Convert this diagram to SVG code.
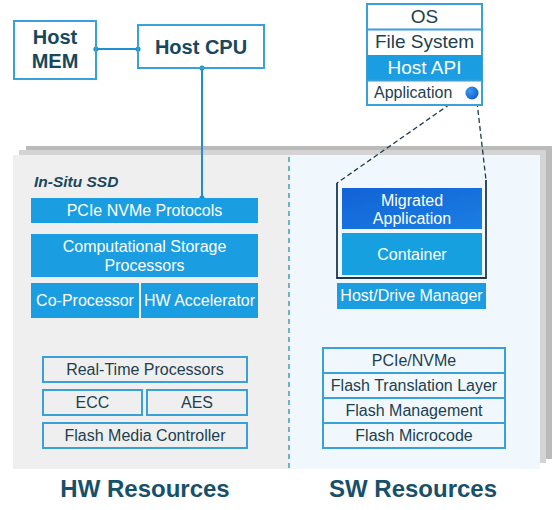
<svg xmlns="http://www.w3.org/2000/svg" width="556" height="510" viewBox="0 0 556 510">
<defs>
<style>
text{font-family:"Liberation Sans",Arial,sans-serif;}
.hd{font-weight:bold;fill:#18485c;font-size:20px;text-anchor:middle;}
.res{font-weight:bold;fill:#17506a;font-size:24px;text-anchor:middle;}
.wt{fill:#ffffff;font-size:16px;text-anchor:middle;}
.dk{fill:#1d3f4f;font-size:16px;text-anchor:middle;}
.ob{fill:none;stroke:#3aa0d8;stroke-width:2;}
.blue{fill:#1b9de2;}
.conn{stroke:#1e8fd0;stroke-width:2;fill:none;}
.dot{fill:#1e8fd0;}
.dash{stroke:#1d3a4a;stroke-width:1.3;stroke-dasharray:5,3;fill:none;}
</style>
<linearGradient id="mig" x1="0" y1="0" x2="1" y2="1">
<stop offset="0" stop-color="#1262d6"/>
<stop offset="1" stop-color="#1a7fe2"/>
</linearGradient>
<radialGradient id="ball" cx="0.35" cy="0.35" r="0.7">
<stop offset="0" stop-color="#3a9af0"/>
<stop offset="1" stop-color="#1060d0"/>
</radialGradient>
</defs>

<g id="background">
<rect x="26" y="146" width="526" height="313" fill="#bababa"/>
<rect x="19" y="150" width="527" height="313" fill="#d4d4d4"/>
<rect x="13" y="155" width="277" height="314" fill="#efefef"/>
<rect x="290" y="155" width="250" height="314" fill="#f0f8fd"/>
<line x1="289" y1="157" x2="289" y2="469" stroke="#2a8fb0" stroke-width="1.3" stroke-dasharray="5,4"/>
</g>

<g id="connectors">
<line class="conn" x1="96" y1="49" x2="138" y2="49"/>
<circle class="dot" cx="96" cy="49" r="2.6"/>
<circle class="dot" cx="138" cy="49" r="2.6"/>
<line class="conn" x1="202" y1="68" x2="202" y2="198"/>
<circle class="dot" cx="202" cy="68" r="2.6"/>
<circle class="dot" cx="202" cy="198" r="2.6"/>
<line class="dash" x1="463" y1="95" x2="337" y2="183"/>
<line class="dash" x1="477" y1="102" x2="486" y2="180"/>
</g>

<g id="host-mem">
<rect class="ob" x="14" y="21" width="82" height="58" fill="#fff"/>
<text class="hd" x="55" y="44">Host</text>
<text class="hd" x="55" y="68">MEM</text>
</g>

<g id="host-cpu">
<rect class="ob" x="138" y="25" width="126" height="43" fill="#fff"/>
<text class="hd" x="201" y="54">Host CPU</text>
</g>

<g id="host-stack">
<rect x="367" y="4" width="115" height="101" fill="#fff" stroke="#3aa0d8" stroke-width="2"/>
<rect x="367" y="55" width="115" height="25" class="blue"/>
<line x1="367" y1="29.5" x2="482" y2="29.5" stroke="#3aa0d8" stroke-width="2"/>
<line x1="367" y1="80.5" x2="482" y2="80.5" stroke="#3aa0d8" stroke-width="2"/>
<text x="424.5" y="23" style="fill:#1d3f4f;font-size:19px;text-anchor:middle">OS</text>
<text x="424.5" y="48" style="fill:#1d3f4f;font-size:19px;text-anchor:middle">File System</text>
<text x="424.5" y="74" style="fill:#fff;font-size:19px;text-anchor:middle">Host API</text>
<text x="374" y="98" style="fill:#1d3f4f;font-size:16px">Application</text>
<circle cx="472" cy="93" r="6.5" fill="url(#ball)"/>
</g>

<g id="in-situ-label">
<text x="34" y="187" style="font-weight:bold;font-style:italic;fill:#18485c;font-size:15.5px">In-Situ SSD</text>
</g>

<g id="pcie-nvme-protocols">
<rect class="blue" x="31" y="198" width="227" height="25"/>
<text class="wt" x="144.5" y="216">PCIe NVMe Protocols</text>
</g>

<g id="cs-processors">
<rect class="blue" x="31" y="234" width="227" height="43"/>
<text class="wt" x="144.5" y="252">Computational Storage</text>
<text class="wt" x="144.5" y="271">Processors</text>
</g>

<g id="co-processor">
<rect class="blue" x="31" y="283" width="108" height="35"/>
<text class="wt" x="85" y="306">Co-Processor</text>
</g>

<g id="hw-accelerator">
<rect class="blue" x="141" y="283" width="117" height="35"/>
<text class="wt" x="199.5" y="306">HW Accelerator</text>
</g>

<g id="real-time-processors">
<rect class="ob" x="43" y="357" width="204" height="25"/>
<text class="dk" x="145" y="375">Real-Time Processors</text>
</g>

<g id="ecc">
<rect class="ob" x="43" y="390" width="99" height="25"/>
<text class="dk" x="92.5" y="408">ECC</text>
</g>

<g id="aes">
<rect class="ob" x="147" y="390" width="100" height="25"/>
<text class="dk" x="197" y="408">AES</text>
</g>

<g id="flash-media-controller">
<rect class="ob" x="43" y="423" width="204" height="25"/>
<text class="dk" x="145" y="441">Flash Media Controller</text>
</g>

<g id="container-group">
<polyline points="337,183 337,278 486,278 486,180" fill="none" stroke="#1d3a4a" stroke-width="1.8"/>
<rect x="342" y="188" width="140" height="41" fill="url(#mig)"/>
<text x="412" y="206" style="fill:#fff;font-size:16px;text-anchor:middle">Migrated</text>
<text x="412" y="224" style="fill:#fff;font-size:16px;text-anchor:middle">Application</text>
<rect x="342" y="233" width="140" height="42" fill="#17a0e0"/>
<text x="412" y="260" style="fill:#fff;font-size:16px;text-anchor:middle">Container</text>
</g>

<g id="host-drive-manager">
<rect class="blue" x="337" y="283" width="149" height="26"/>
<text class="wt" x="411.5" y="301">Host/Drive Manager</text>
</g>

<g id="sw-stack">
<rect class="ob" x="323" y="348" width="182" height="100"/>
<line x1="323" y1="373" x2="505" y2="373" stroke="#3aa0d8" stroke-width="2"/>
<line x1="323" y1="398" x2="505" y2="398" stroke="#3aa0d8" stroke-width="2"/>
<line x1="323" y1="423" x2="505" y2="423" stroke="#3aa0d8" stroke-width="2"/>
<text class="dk" x="414" y="366">PCIe/NVMe</text>
<text class="dk" x="414" y="391">Flash Translation Layer</text>
<text class="dk" x="414" y="416">Flash Management</text>
<text class="dk" x="414" y="441">Flash Microcode</text>
</g>

<g id="labels">
<text class="res" x="145" y="497">HW Resources</text>
<text class="res" x="413" y="497">SW Resources</text>
</g>
</svg>
